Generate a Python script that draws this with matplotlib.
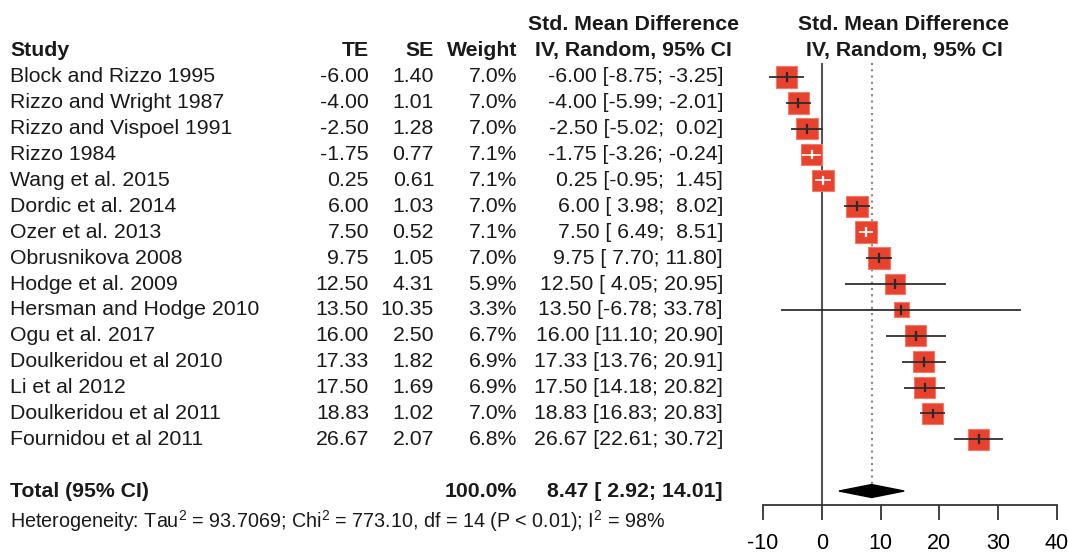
import numpy as np
import matplotlib
matplotlib.use("Agg")
import matplotlib.pyplot as plt
import matplotlib.transforms as mtransforms
from matplotlib.patches import Rectangle, Polygon

plt.rcParams['font.family'] = ['Liberation Sans', 'DejaVu Sans']
plt.rcParams['mathtext.fontset'] = 'custom'
plt.rcParams['mathtext.rm'] = 'Liberation Sans'
plt.rcParams['mathtext.it'] = 'Liberation Sans'

studies = ["Block and Rizzo 1995", "Rizzo and Wright 1987", "Rizzo and Vispoel 1991",
           "Rizzo 1984", "Wang et al. 2015", "Dordic et al. 2014", "Ozer et al. 2013",
           "Obrusnikova 2008", "Hodge et al. 2009", "Hersman and Hodge 2010",
           "Ogu et al. 2017", "Doulkeridou et al 2010", "Li et al 2012",
           "Doulkeridou et al 2011", "Fournidou et al 2011"]
te = [-6.00, -4.00, -2.50, -1.75, 0.25, 6.00, 7.50, 9.75, 12.50, 13.50,
      16.00, 17.33, 17.50, 18.83, 26.67]
se = [1.40, 1.01, 1.28, 0.77, 0.61, 1.03, 0.52, 1.05, 4.31, 10.35,
      2.50, 1.82, 1.69, 1.02, 2.07]
weight = [7.0, 7.0, 7.0, 7.1, 7.1, 7.0, 7.1, 7.0, 5.9, 3.3,
          6.7, 6.9, 6.9, 7.0, 6.8]
lower = [-8.75, -5.99, -5.02, -3.26, -0.95, 3.98, 6.49, 7.70, 4.05, -6.78,
         11.10, 13.76, 14.18, 16.83, 22.61]
upper = [-3.25, -2.01, 0.02, -0.24, 1.45, 8.02, 8.51, 11.80, 20.95, 33.78,
         20.90, 20.91, 20.82, 20.83, 30.72]
total_est, total_lo, total_hi = 8.47, 2.92, 14.01
x_ticks = [-10, 0, 10, 20, 30, 40]

W, H = 1068, 554
fig = plt.figure(figsize=(W / 100, H / 100), dpi=100)
fig.patch.set_facecolor('white')

# forest plot area
ax = fig.add_axes([763 / W, 49 / H, 294 / W, 442 / H])
ax.set_xlim(-10, 40)
ax.set_ylim(16.54, -0.54)
for s in ['top', 'right', 'left']:
    ax.spines[s].set_visible(False)
ax.spines['bottom'].set_linewidth(1.3)
ax.spines['bottom'].set_color('#333333')
ax.set_yticks([])
ax.set_xticks(x_ticks)
ax.set_xticklabels([str(t) for t in x_ticks])
ax.tick_params(axis='x', direction='out', length=11, width=1.3, color='#333333',
               labelsize=15.5, pad=9)

ax.plot([0, 0], [-0.54, 16.54], color='#555555', lw=1.5, zorder=1)
ax.plot([total_est, total_est], [-0.54, 15.75], color='#888888', lw=1.5,
        ls=(0, (1, 2)), zorder=1)

xpp = 50 / 294      # data units per pixel, x
ypp = 17.08 / 442   # rows per pixel, y
red = '#e8412d'
for i in range(len(studies)):
    side = 21.5 * np.sqrt(weight[i] / 7.0)
    w = side * xpp
    h = side * ypp
    ax.add_patch(Rectangle((te[i] - w / 2, i - h / 2), w, h, facecolor=red,
                           edgecolor='#f27a6c', lw=0.8, zorder=2))
    inside = (upper[i] - lower[i]) < w
    col = 'white' if inside else '#2a2a2a'
    ax.plot([lower[i], upper[i]], [i, i], color=col, lw=1.4, zorder=3,
            alpha=0.9 if not inside else 0.85)
    ax.plot([te[i], te[i]], [i - 0.15, i + 0.15], color=col, lw=1.6, zorder=3)

ax.add_patch(Polygon([[total_lo, 16], [total_est, 15.75], [total_hi, 16],
                      [total_est, 16.25]], closed=True, facecolor='black',
                     edgecolor='black', zorder=3))

# text columns: x in figure pixels, y in row units
tr = mtransforms.blended_transform_factory(fig.transFigure, ax.transData)
fs = 15.3
txt = '#1a1a1a'

def put(px, row, s, ha='left', bold=False, size=fs):
    ax.text(px / W, row, s, transform=tr, ha=ha, va='center', fontsize=size,
            fontweight='bold' if bold else 'normal', color=txt, clip_on=False)

put(10, -1.04, "Study", bold=True)
put(369, -1.04, "TE", ha='right', bold=True)
put(434, -1.04, "SE", ha='right', bold=True)
put(517, -1.04, "Weight", ha='right', bold=True)
put(633, -2.01, "Std. Mean Difference", ha='center', bold=True)
put(633, -1.04, "IV, Random, 95% CI", ha='center', bold=True)
put(904, -2.01, "Std. Mean Difference", ha='center', bold=True)
put(904, -1.04, "IV, Random, 95% CI", ha='center', bold=True)

for i in range(len(studies)):
    put(10, i, studies[i])
    put(369, i, f"{te[i]:.2f}", ha='right')
    put(434, i, f"{se[i]:.2f}", ha='right')
    put(517, i, f"{weight[i]:.1f}%", ha='right')
    put(723, i, f"{te[i]:.2f} [{lower[i]:5.2f}; {upper[i]:5.2f}]", ha='right')

put(10, 16, "Total (95% CI)", bold=True)
put(517, 16, "100.0%", ha='right', bold=True)
put(723, 16, f"{total_est:.2f} [{total_lo:5.2f}; {total_hi:5.2f}]", ha='right', bold=True)
put(10, 17.17, "Heterogeneity: Tau$^2$ = 93.7069; Chi$^2$ = 773.10, df = 14 (P < 0.01); I$^2$ = 98%",
    size=14.2)

fig.savefig('out.png', dpi=100)
